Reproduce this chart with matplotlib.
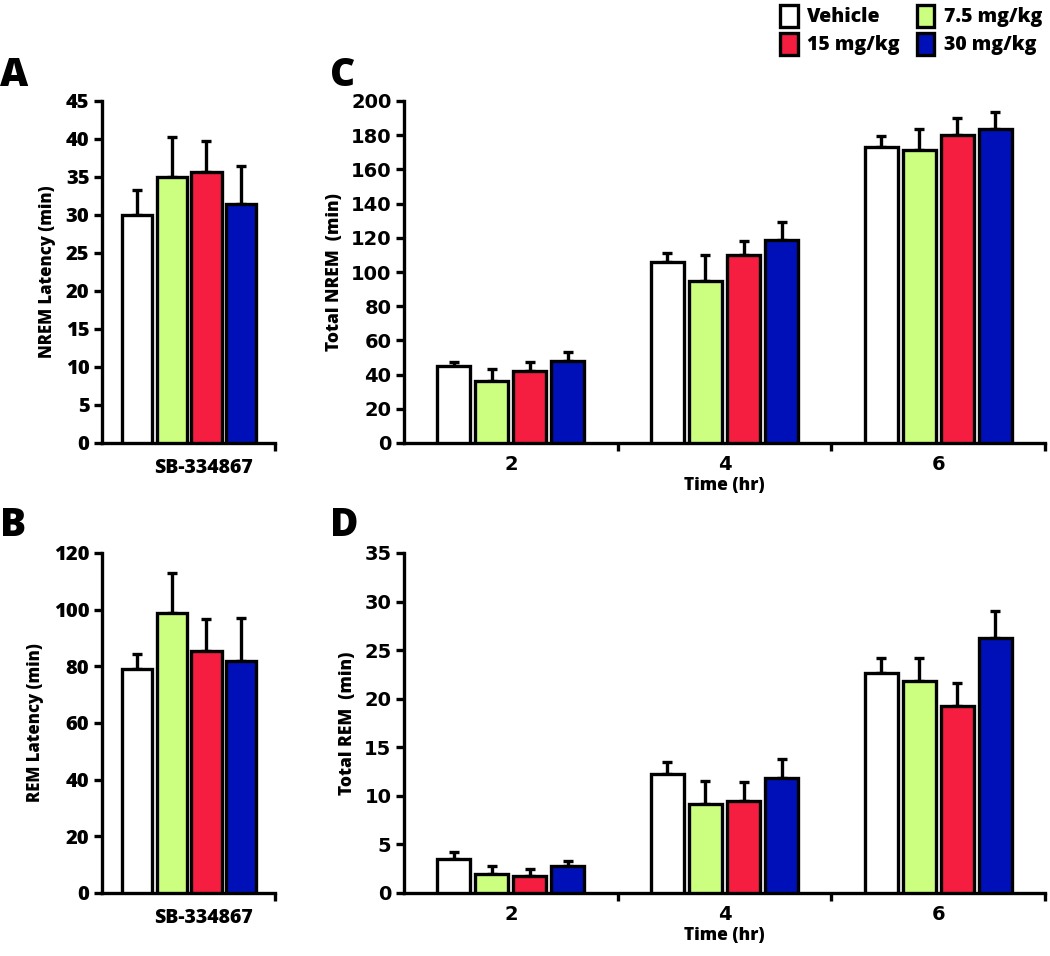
import numpy as np
import matplotlib
matplotlib.use('Agg')
import matplotlib.pyplot as plt
from matplotlib.patches import Patch

plt.rcParams['font.family'] = ['Open Sans', 'DejaVu Sans']
plt.rcParams['font.weight'] = 'heavy'

W, H = 1050, 956

groups = ['Vehicle', '7.5 mg/kg', '15 mg/kg', '30 mg/kg']
colors = ['#ffffff', '#ccff80', '#f51e40', '#0010b8']
times = ['2', '4', '6']

# panel A / B : latencies (mean, sem)
nrem_lat = [30.0, 35.0, 35.7, 31.5]
nrem_lat_err = [3.3, 5.3, 4.0, 5.0]
rem_lat = [79.0, 98.8, 85.3, 81.8]
rem_lat_err = [5.5, 14.2, 11.3, 15.3]

# panel C / D : totals per time point, one list per group
nrem_tot = [[45.0, 106.0, 173.0],
            [36.0, 95.0, 171.5],
            [42.0, 110.0, 180.0],
            [48.0, 119.0, 183.5]]
nrem_tot_err = [[2.5, 5.0, 6.5],
                [7.0, 15.0, 12.0],
                [5.5, 8.0, 10.0],
                [5.5, 10.0, 10.0]]
rem_tot = [[3.5, 12.3, 22.6],
           [2.0, 9.2, 21.8],
           [1.8, 9.5, 19.2],
           [2.8, 11.8, 26.2]]
rem_tot_err = [[0.7, 1.2, 1.6],
               [0.8, 2.3, 2.4],
               [0.7, 1.9, 2.4],
               [0.5, 2.0, 2.8]]

LW = 2.4
NARROW = ['Liberation Sans Narrow', 'DejaVu Sans']


def px_axes(fig, x0, x1, ytop, ybot):
    return fig.add_axes([x0 / W, (H - ybot) / H, (x1 - x0) / W, (ybot - ytop) / H])


def style_axes(ax):
    for s in ['top', 'right']:
        ax.spines[s].set_visible(False)
    for s in ['left', 'bottom']:
        ax.spines[s].set_linewidth(LW)
    ax.tick_params(axis='y', direction='out', length=6, width=LW, pad=3)


def latency_panel(ax, vals, errs, ymax, ystep, ylabel):
    x = np.arange(len(vals))
    ax.bar(x, vals, width=0.86, color=colors, edgecolor='black', linewidth=LW, zorder=3)
    ax.errorbar(x, vals, yerr=[np.zeros(len(errs)), errs], fmt='none', ecolor='black',
                elinewidth=LW, capsize=3.6, capthick=LW, zorder=2)
    ax.set_xlim(-0.99, 3.96)
    ax.set_ylim(0, ymax)
    ax.set_yticks(np.arange(0, ymax + 0.1, ystep))
    ax.tick_params(axis='y', labelsize=14.5)
    ax.set_xticks([1.9], ['SB-334867'])
    ax.set_xticks([3.96], minor=True)
    ax.tick_params(axis='x', which='major', length=0, labelsize=14, pad=11)
    ax.tick_params(axis='x', which='minor', length=6, width=LW, direction='out')
    ax.set_ylabel(ylabel, fontsize=12, fontweight='heavy', labelpad=7)
    style_axes(ax)


def total_panel(ax, vals, errs, ymax, ystep, ylabel):
    x = np.arange(len(times))
    step, bw = 0.178, 0.155
    for i in range(len(groups)):
        xi = x + (i - 1.5) * step
        ax.bar(xi, vals[i], width=bw, color=colors[i], edgecolor='black', linewidth=LW, zorder=3)
        ax.errorbar(xi, vals[i], yerr=[np.zeros(len(times)), errs[i]], fmt='none',
                    ecolor='black', elinewidth=LW, capsize=3.6, capthick=LW, zorder=2)
    ax.set_xlim(-0.5, 2.5)
    ax.set_ylim(0, ymax)
    ax.set_yticks(np.arange(0, ymax + 0.1, ystep))
    ax.tick_params(axis='y', labelsize=14)
    ax.set_xticks(x, times)
    ax.set_xticks([0.5, 1.5, 2.5], minor=True)
    ax.tick_params(axis='x', which='major', length=0, labelsize=14, pad=9)
    ax.tick_params(axis='x', which='minor', length=6, width=LW, direction='out')
    for lab in ax.get_xticklabels() + ax.get_yticklabels():
        lab.set_family(NARROW)
        lab.set_fontweight('bold')
    ax.set_xlabel('Time (hr)', fontsize=12.5, fontweight='heavy', labelpad=2)
    ax.set_ylabel(ylabel, fontsize=12.5, fontweight='heavy', labelpad=6)
    style_axes(ax)


fig = plt.figure(figsize=(W / 100, H / 100), dpi=100)

axA = px_axes(fig, 102, 275, 101, 443)
latency_panel(axA, nrem_lat, nrem_lat_err, 45, 5, 'NREM Latency (min)')
axB = px_axes(fig, 102, 275, 553, 893)
latency_panel(axB, rem_lat, rem_lat_err, 120, 20, 'REM Latency (min)')
axC = px_axes(fig, 404, 1045, 101, 443)
total_panel(axC, nrem_tot, nrem_tot_err, 200, 20, 'Total NREM  (min)')
axD = px_axes(fig, 404, 1045, 553, 893)
total_panel(axD, rem_tot, rem_tot_err, 35, 5, 'Total REM  (min)')

for lab, (px, py) in zip('ABCD', [(0, 75), (0, 525), (330, 75), (330, 525)]):
    fig.text(px / W, 1 - py / H, lab, fontsize=28, fontweight='heavy', va='center', ha='left')

handles = [Patch(facecolor=c, edgecolor='black', linewidth=LW) for c in colors]
order = [0, 2, 1, 3]
fig.legend([handles[i] for i in order], [groups[i] for i in order], ncol=2,
           loc='upper right', bbox_to_anchor=(1050 / W, 1 + 3 / H), frameon=False,
           prop={'size': 14, 'weight': 'heavy'}, handlelength=0.9, handleheight=1.35,
           handletextpad=0.5, columnspacing=0.85, labelspacing=0.3, borderaxespad=0.0)

fig.savefig('out.png', dpi=100)
